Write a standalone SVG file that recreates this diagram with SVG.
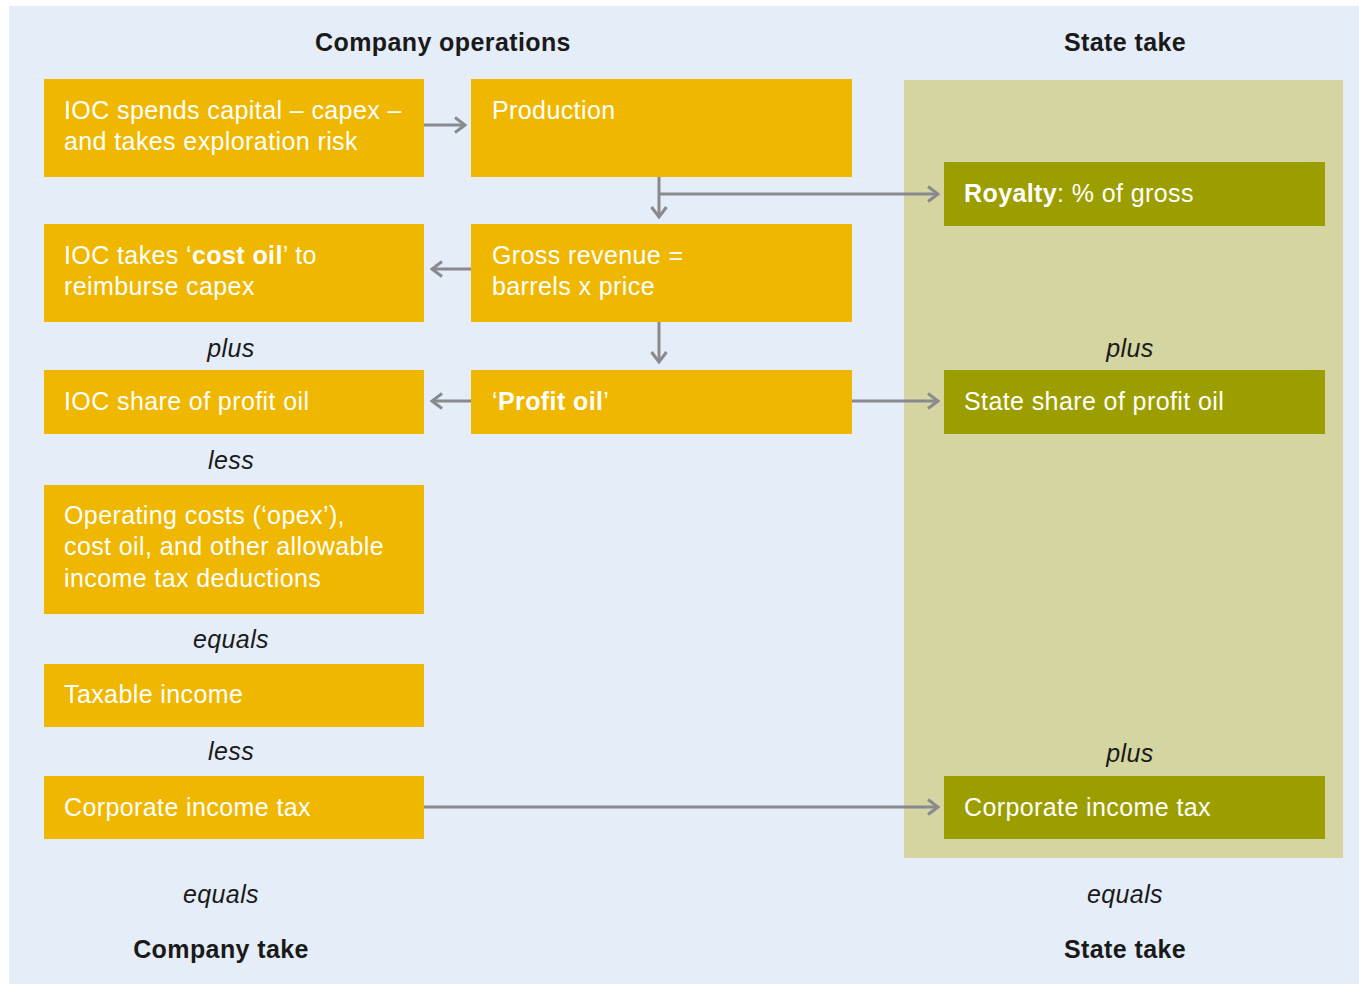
<svg xmlns="http://www.w3.org/2000/svg" width="1359" height="984" viewBox="0 0 1359 984">
<style>
.bg{fill:#E5EDF8}
.panel{fill:#D5D5A1}
.y{fill:#F0B700}
.g{fill:#9C9E00}
.t{font-family:"Liberation Sans",Arial,sans-serif;font-size:25px;letter-spacing:0.4px;fill:#FFFFFF}
.h{font-family:"Liberation Sans",Arial,sans-serif;font-size:25px;letter-spacing:0.4px;font-weight:bold;fill:#1A1A1A;text-anchor:middle}
.i{font-family:"Liberation Sans",Arial,sans-serif;font-size:25px;letter-spacing:0.4px;font-style:italic;fill:#1A1A1A;text-anchor:middle}
.c{stroke:#8A8A8E;stroke-width:3;fill:none;marker-end:url(#a)}
</style>
<defs>
<marker id="a" viewBox="0 0 14 18" refX="12" refY="9" markerWidth="14" markerHeight="18" markerUnits="userSpaceOnUse" orient="auto">
<path d="M2,1.5 L12,9 L2,16.5" fill="none" stroke="#8A8A8E" stroke-width="3"/>
</marker>
</defs>
<rect class="bg" x="9" y="6" width="1350" height="978"/>
<rect class="panel" x="904" y="80" width="439" height="778"/>
<text class="h" x="443" y="51">Company operations</text>
<text class="h" x="1125" y="51">State take</text>
<g id="n-capex"><rect class="y" x="44" y="79" width="380" height="98"/><text class="t" x="64" y="119">IOC spends capital – capex –</text><text class="t" x="64" y="150">and takes exploration risk</text></g>
<g id="n-production"><rect class="y" x="471" y="79" width="381" height="98"/><text class="t" x="492" y="119">Production</text></g>
<g id="n-royalty"><rect class="g" x="944" y="162" width="381" height="64"/><text class="t" x="964" y="202"><tspan font-weight="bold">Royalty</tspan>: % of gross</text></g>
<g id="n-costoil"><rect class="y" x="44" y="224" width="380" height="98"/><text class="t" x="64" y="264">IOC takes ‘<tspan font-weight="bold">cost oil</tspan>’ to</text><text class="t" x="64" y="295">reimburse capex</text></g>
<g id="n-gross"><rect class="y" x="471" y="224" width="381" height="98"/><text class="t" x="492" y="264">Gross revenue =</text><text class="t" x="492" y="295">barrels x price</text></g>
<g id="n-iocshare"><rect class="y" x="44" y="370" width="380" height="64"/><text class="t" x="64" y="410">IOC share of profit oil</text></g>
<g id="n-profitoil"><rect class="y" x="471" y="370" width="381" height="64"/><text class="t" x="492" y="410">‘<tspan font-weight="bold">Profit oil</tspan>’</text></g>
<g id="n-stateshare"><rect class="g" x="944" y="370" width="381" height="64"/><text class="t" x="964" y="410">State share of profit oil</text></g>
<g id="n-opex"><rect class="y" x="44" y="485" width="380" height="129"/><text class="t" x="64" y="524">Operating costs (‘opex’),</text><text class="t" x="64" y="555">cost oil, and other allowable</text><text class="t" x="64" y="587">income tax deductions</text></g>
<g id="n-taxable"><rect class="y" x="44" y="664" width="380" height="63"/><text class="t" x="64" y="703">Taxable income</text></g>
<g id="n-cit-left"><rect class="y" x="44" y="776" width="380" height="63"/><text class="t" x="64" y="816">Corporate income tax</text></g>
<g id="n-cit-right"><rect class="g" x="944" y="776" width="381" height="63"/><text class="t" x="964" y="816">Corporate income tax</text></g>
<g id="labels">
<text class="i" x="231" y="357">plus</text>
<text class="i" x="231" y="469">less</text>
<text class="i" x="231" y="648">equals</text>
<text class="i" x="231" y="760">less</text>
<text class="i" x="221" y="903">equals</text>
<text class="h" x="221" y="958">Company take</text>
<text class="i" x="1130" y="357">plus</text>
<text class="i" x="1130" y="762">plus</text>
<text class="i" x="1125" y="903">equals</text>
<text class="h" x="1125" y="958">State take</text>
</g>
<g id="connectors">
<path class="c" d="M424,125 H465"/>
<path class="c" d="M659,177 V217"/>
<path class="c" d="M659,194 H938"/>
<path class="c" d="M471,269 H432"/>
<path class="c" d="M659,322 V362"/>
<path class="c" d="M471,401 H432"/>
<path class="c" d="M852,401 H938"/>
<path class="c" d="M424,807 H938"/>
</g>
</svg>
